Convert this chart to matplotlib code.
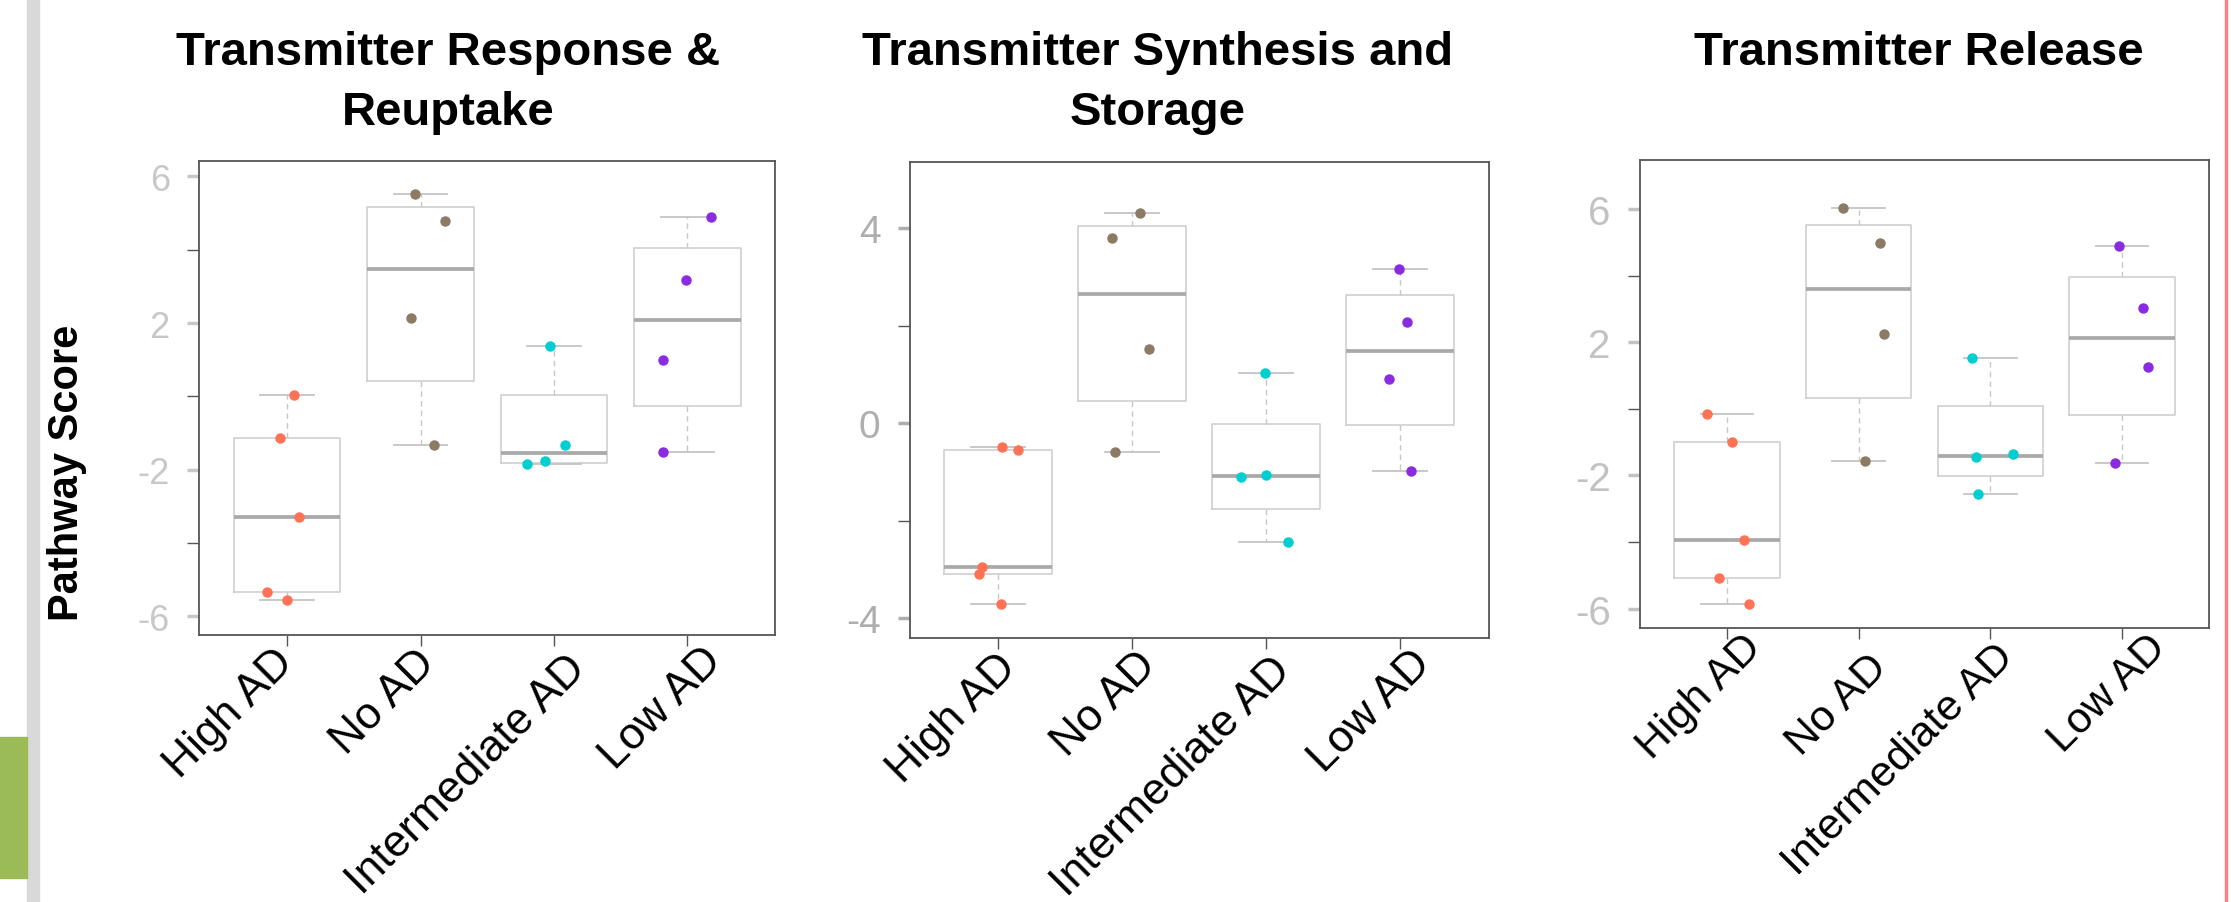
import numpy as np
import matplotlib
matplotlib.use("Agg")
import matplotlib.pyplot as plt
import matplotlib.transforms as mtransforms
from matplotlib.patches import Rectangle

plt.rcParams["font.family"] = ["Liberation Sans", "DejaVu Sans"]

groups = ["High AD", "No AD", "Intermediate AD", "Low AD"]
group_colors = ["#FF7256", "#8B7B65", "#00CED1", "#8A2BE2"]

panel_titles = [["Transmitter Response &", "Reuptake"],
                ["Transmitter Synthesis and", "Storage"],
                ["Transmitter Release"]]

# pathway scores per group
response_scores = [[0.03, -1.15, -3.30, -5.35, -5.55],
                   [5.52, 4.79, 2.14, -1.32],
                   [1.38, -1.32, -1.77, -1.85],
                   [4.90, 3.18, 0.99, -1.52]]
synthesis_scores = [[-0.48, -0.54, -2.94, -3.08, -3.71],
                    [4.30, 3.79, 1.52, -0.59],
                    [1.02, -1.06, -1.10, -2.43],
                    [3.17, 2.07, 0.90, -0.97]]
release_scores = [[-0.15, -0.99, -3.94, -5.09, -5.87],
                  [6.03, 4.98, 2.24, -1.58],
                  [1.51, -1.36, -1.46, -2.56],
                  [4.90, 3.03, 1.25, -1.63]]

# horizontal jitter of each point around its group
response_jitter = [[0.05, -0.05, 0.09, -0.15, 0.0],
                   [-0.04, 0.18, -0.07, 0.10],
                   [-0.03, 0.08, -0.07, -0.20],
                   [0.18, -0.01, -0.18, -0.18]]
synthesis_jitter = [[0.03, 0.15, -0.12, -0.14, 0.02],
                    [0.06, -0.15, 0.13, -0.13],
                    [-0.01, 0.0, -0.19, 0.16],
                    [-0.01, 0.05, -0.08, 0.08]]
release_jitter = [[-0.15, 0.04, 0.13, -0.06, 0.17],
                  [-0.12, 0.16, 0.19, 0.05],
                  [-0.14, 0.17, -0.11, -0.09],
                  [-0.02, 0.16, 0.20, -0.05]]

panel_scores = [response_scores, synthesis_scores, release_scores]
panel_jitter = [response_jitter, synthesis_jitter, release_jitter]
panel_ylims = [(-6.5, 6.43), (-4.40, 5.36), (-6.57, 7.47)]
label_ticks = [[6, 2, -2, -6], [4, 0, -4], [6, 2, -2, -6]]
minor_ticks = [[4, 0, -4], [2, -2], [4, 0, -4]]
ytick_sizes = [26, 28, 29]
ytick_colors = ["#C8C8C8", "#AEAEAE", "#C2C2C2"]
xlabel_sizes = [32, 32, 31]

axes_rects = [[0.0892, 0.2962, 0.2584, 0.5247],
              [0.4077, 0.2924, 0.2595, 0.5274],
              [0.7351, 0.3039, 0.2550, 0.5178]]
title_x = [0.2008, 0.519, 0.860]

# pixel nudges of the rotated group labels (right, down), as placed on the slide
label_dx = [[0, 8, 25, 28], [12, 18, 18, 24], [28, 22, 17, 38]]
label_dy = [[-4, -4, 2, -6], [-3, -5, 0, -6], [-12, 8, -3, -12]]


def fivenum(v):
    v = np.sort(np.asarray(v, dtype=float))
    n = len(v)
    n4 = np.floor((n + 3) / 2) / 2
    d = np.array([1, n4, (n + 1) / 2, n + 1 - n4, n]) - 1
    return 0.5 * (v[np.floor(d).astype(int)] + v[np.ceil(d).astype(int)])


fig = plt.figure(figsize=(22.31, 9.03), dpi=100)

# slide decorations
fig.patches.append(Rectangle((27 / 2231, 0), 12 / 2231, 1, transform=fig.transFigure,
                             color="#D9D9D9", zorder=0))
fig.patches.append(Rectangle((0, 1 - 879 / 903), 27 / 2231, 141 / 903, transform=fig.transFigure,
                             color="#9BBB59", zorder=0))
fig.patches.append(Rectangle((2225 / 2231, 0), 2 / 2231, 1, transform=fig.transFigure,
                             color="#FF8080", zorder=0))

for p in range(3):
    ax = fig.add_axes(axes_rects[p])
    pos = np.arange(1, len(groups) + 1)
    stats = []
    for g, vals in enumerate(panel_scores[p]):
        lo, q1, med, q3, hi = fivenum(vals)
        stats.append(dict(med=med, q1=q1, q3=q3, whislo=lo, whishi=hi, fliers=[]))
    ax.bxp(stats, positions=pos, widths=0.8, showfliers=False,
           boxprops=dict(color="#CFCFCF", lw=1.2),
           medianprops=dict(color="#A9A9A9", lw=2.7, solid_capstyle="butt"),
           whiskerprops=dict(color="#C8C8C8", lw=1.0, linestyle=(0, (4, 3))),
           capprops=dict(color="#C4C4C4", lw=1.3))
    for g, vals in enumerate(panel_scores[p]):
        xs = pos[g] + np.array(panel_jitter[p][g])
        ax.plot(xs, vals, "o", color=group_colors[g], ms=6.5, mec=group_colors[g], zorder=5)

    ax.set_xlim(0.34, 4.66)
    ax.set_ylim(*panel_ylims[p])
    for s in ax.spines.values():
        s.set_color("#555555")
        s.set_linewidth(1.3)

    ax.set_yticks(label_ticks[p])
    ax.set_yticklabels([str(t) for t in label_ticks[p]])
    ax.set_yticks(minor_ticks[p], minor=True)
    ax.tick_params(axis="y", which="major", length=9, width=2.5, color=ytick_colors[p],
                   labelcolor=ytick_colors[p], labelsize=ytick_sizes[p], pad=12)
    ax.tick_params(axis="y", which="minor", length=9, width=1, color="#555555")

    ax.set_xticks(pos)
    ax.set_xticklabels([])
    ax.tick_params(axis="x", length=8, width=1, color="#555555")
    base = mtransforms.blended_transform_factory(ax.transData, ax.transAxes)
    for g, name in enumerate(groups):
        shift = mtransforms.ScaledTranslation(label_dx[p][g] / 100, -(25 + label_dy[p][g]) / 100,
                                              fig.dpi_scale_trans)
        ax.text(pos[g], 0, name, transform=base + shift, rotation=45, ha="right", va="center",
                rotation_mode="anchor", fontsize=xlabel_sizes[p], clip_on=False)

    for i, line in enumerate(panel_titles[p]):
        fig.text(title_x[p], 1 - (65 + 60 * i) / 903, line, ha="center", va="baseline",
                 fontsize=34, fontweight="bold")

fig.text(67 / 2231, 1 - 473 / 903, "Pathway Score", rotation=90, ha="center", va="center",
         fontsize=30, fontweight="bold")

fig.savefig("out.png", dpi=100)
